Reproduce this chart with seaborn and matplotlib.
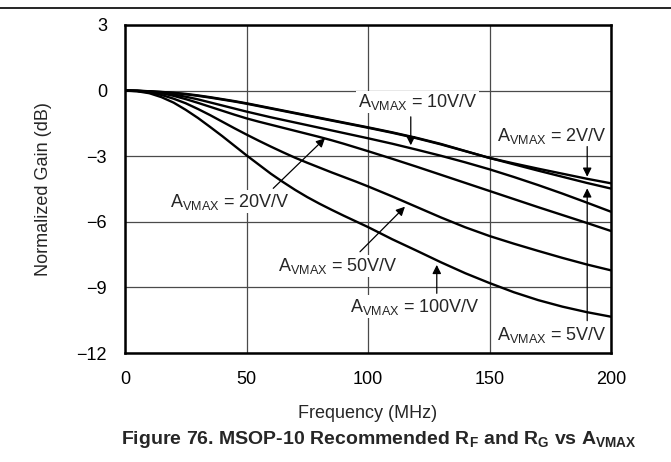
import numpy as np
import pandas as pd
import matplotlib
matplotlib.use("Agg")
import matplotlib.pyplot as plt
from matplotlib.lines import Line2D
import seaborn as sns

# frequency grid (MHz) shared by all curves
freq = [0, 5, 10, 15, 20, 25, 30, 35, 40, 45, 50, 55, 60, 65, 70, 75, 80, 85, 90, 95, 100,
        110, 120, 130, 140, 150, 160, 170, 180, 190, 200]

# normalized gain (dB)
gain_2 = [0, -0.01, -0.03, -0.06, -0.1, -0.15, -0.22, -0.3, -0.39, -0.48, -0.58,
          -0.69, -0.8, -0.91, -1.02, -1.13, -1.24, -1.35, -1.46, -1.57, -1.68,
          -1.91, -2.16, -2.44, -2.76, -3.08, -3.33, -3.57, -3.8, -4.03, -4.24]
gain_5 = [0, -0.01, -0.03, -0.07, -0.11, -0.17, -0.24, -0.32, -0.41, -0.5, -0.6,
          -0.71, -0.82, -0.93, -1.04, -1.15, -1.26, -1.37, -1.48, -1.59, -1.7,
          -1.93, -2.18, -2.46, -2.77, -3.08, -3.37, -3.66, -3.94, -4.22, -4.48]
gain_10 = [0, -0.01, -0.04, -0.1, -0.18, -0.28, -0.4, -0.54, -0.68, -0.82, -0.96,
           -1.09, -1.22, -1.34, -1.46, -1.58, -1.7, -1.82, -1.94, -2.06, -2.18,
           -2.43, -2.7, -2.98, -3.28, -3.6, -3.95, -4.32, -4.71, -5.12, -5.54]
gain_20 = [0, -0.01, -0.05, -0.12, -0.24, -0.39, -0.56, -0.74, -0.92, -1.1, -1.27,
           -1.42, -1.56, -1.7, -1.84, -1.98, -2.12, -2.27, -2.43, -2.6, -2.77,
           -3.12, -3.48, -3.85, -4.22, -4.59, -4.96, -5.33, -5.69, -6.05, -6.42]
gain_50 = [0, -0.02, -0.08, -0.2, -0.37, -0.58, -0.84, -1.12, -1.42, -1.72, -2.01,
           -2.29, -2.56, -2.82, -3.07, -3.3, -3.52, -3.74, -3.95, -4.16, -4.38,
           -4.84, -5.32, -5.8, -6.25, -6.65, -7.0, -7.33, -7.65, -7.95, -8.22]
gain_100 = [0, -0.03, -0.12, -0.3, -0.55, -0.88, -1.25, -1.66, -2.08, -2.52, -2.96,
            -3.38, -3.8, -4.18, -4.54, -4.87, -5.17, -5.45, -5.72, -5.98, -6.24,
            -6.8, -7.32, -7.85, -8.35, -8.8, -9.22, -9.58, -9.88, -10.13, -10.34]

gains = ["2V/V", "5V/V", "10V/V", "20V/V", "50V/V", "100V/V"]
series = [gain_2, gain_5, gain_10, gain_20, gain_50, gain_100]

x_ticks = [0, 50, 100, 150, 200]
y_ticks = [3, 0, -3, -6, -9, -12]

# label text position, arrow start, arrow tip (data units)
labels = {
    "10V/V": ((120.4, -0.52), (117.6, -1.2), (117.6, -2.5)),
    "2V/V": ((175.6, -2.06), (190.2, -2.56), (190.2, -3.94)),
    "5V/V": ((175.6, -11.17), (190.2, -10.52), (190.2, -4.47)),
    "20V/V": ((43.2, -5.09), (61.0, -4.47), (82.3, -2.18)),
    "50V/V": ((87.7, -8.02), (96.7, -7.37), (115.2, -5.31)),
    "100V/V": ((119.3, -9.88), (128.3, -9.27), (128.3, -7.97)),
}

df = pd.DataFrame({
    "freq": np.tile(freq, len(series)),
    "gain": np.concatenate(series),
    "avmax": np.repeat(gains, len(freq)),
})

sns.set_style("white")
plt.rcParams["font.family"] = ["Liberation Sans", "DejaVu Sans"]
plt.rcParams["mathtext.default"] = "regular"

fig = plt.figure(figsize=(6.71, 4.62), dpi=100)
ax = fig.add_axes([0.1863, 0.2359, 0.7243, 0.71])

sns.lineplot(data=df, x="freq", y="gain", hue="avmax", hue_order=gains,
             palette=["black"] * len(gains), linewidth=1.7, legend=False, ax=ax)

ax.set_xlim(0, 200)
ax.set_ylim(-12, 3)
ax.set_xticks(x_ticks)
ax.set_yticks(y_ticks)
ax.grid(True, color="#4a4a4a", linewidth=0.9)
ax.set_axisbelow(True)
for s in ax.spines.values():
    s.set_color("black")
    s.set_linewidth(1.8)
ax.tick_params(length=0, labelsize=13, pad=13, colors="black")

ax.set_xlabel("Frequency (MHz)", fontsize=13)
ax.set_ylabel("Normalized Gain (dB)", fontsize=13)
ax.xaxis.set_label_coords(0.5, -0.16)
ax.yaxis.set_label_coords(-0.150, 0.5)

for name, (txt, start, tip) in labels.items():
    ax.text(txt[0], txt[1], "A$_{VMAX}$ = " + name, fontsize=13,
            ha="center", va="center", zorder=5,
            bbox=dict(facecolor="white", edgecolor="none", pad=1.0))
    ax.annotate("", xy=tip, xytext=start, zorder=6,
                arrowprops=dict(arrowstyle="-|>", color="black", lw=0.9,
                                mutation_scale=13, shrinkA=0, shrinkB=0))

fig.text(0.565, 0.048,
         "Figure 76. MSOP-10 Recommended R$_F$ and R$_G$ vs A$_{VMAX}$",
         ha="center", va="center", fontsize=14, fontweight="bold")
fig.add_artist(Line2D([0, 1], [0.983, 0.983], color="black", linewidth=1.2))

fig.savefig("out.png", dpi=100)
